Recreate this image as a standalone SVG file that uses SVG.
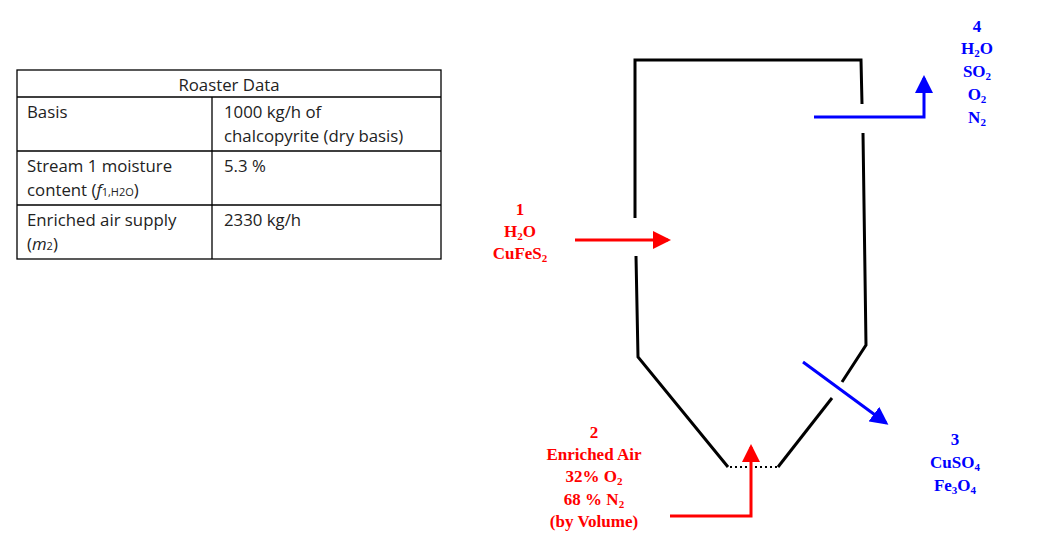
<svg xmlns="http://www.w3.org/2000/svg" width="1041" height="549" viewBox="0 0 1041 549">
<style>
.t{font-family:"Open Sans","Liberation Sans",sans-serif;font-size:16.8px;fill:#222}
.w{stroke:#000;stroke-width:3;fill:none}
.r{font-family:"Liberation Serif",serif;font-weight:bold;font-size:17px;fill:#f00;text-anchor:middle}
.b{font-family:"Liberation Serif",serif;font-weight:bold;font-size:17px;fill:#00f;text-anchor:middle}
.s{font-size:11px}
</style>
<defs>
<marker id="ar" markerWidth="6" markerHeight="6" refX="5" refY="3" orient="auto" markerUnits="strokeWidth"><path d="M0,0L6,3L0,6z" fill="#f00"/></marker>
<marker id="ab" markerWidth="6" markerHeight="6" refX="5" refY="3" orient="auto" markerUnits="strokeWidth"><path d="M0,0L6,3L0,6z" fill="#00f"/></marker>
</defs>
<g id="table" fill="none" stroke="#000" stroke-width="1.3">
<rect x="17" y="70" width="424" height="189"/>
<path d="M17 97H441M17 151H441M17 205H441M212 97V259"/>
</g>
<g id="table-text" class="t">
<text x="229" y="91" text-anchor="middle">Roaster Data</text>
<text x="27" y="118">Basis</text>
<text x="224" y="118">1000 kg/h of</text>
<text x="224" y="142">chalcopyrite (dry basis)</text>
<text x="27" y="172">Stream 1 moisture</text>
<text x="27" y="196">content (<tspan font-style="italic">f</tspan><tspan font-size="11">1,H2O</tspan>)</text>
<text x="224" y="172">5.3 %</text>
<text x="27" y="226">Enriched air supply</text>
<text x="27" y="250">(<tspan font-style="italic">m</tspan><tspan font-size="11">2</tspan>)</text>
<text x="224" y="226">2330 kg/h</text>
</g>
<g id="roaster">
<path class="w" d="M635 218V60H861L862 104"/>
<path class="w" d="M863 133L866 345L842 382"/>
<path class="w" d="M832 398L778 467"/>
<path class="w" d="M636 256L638 357L728 467"/>
<path d="M730 467H777" stroke="#000" stroke-width="2" stroke-dasharray="2,3"/>
</g>
<g id="connectors" fill="none" stroke-width="3">
<path d="M575 240H668" stroke="#f00" marker-end="url(#ar)"/>
<path d="M670 516H751V447" stroke="#f00" marker-end="url(#ar)"/>
<path d="M814 117H924V78" stroke="#00f" marker-end="url(#ab)"/>
<path d="M803 362L886 423" stroke="#00f" marker-end="url(#ab)"/>
</g>
<g id="stream1" class="r">
<text x="520" y="215">1</text>
<text x="520" y="237">H<tspan class="s" dy="3">2</tspan><tspan dy="-3">O</tspan></text>
<text x="520" y="259">CuFeS<tspan class="s" dy="3">2</tspan></text>
</g>
<g id="stream2" class="r">
<text x="594" y="438">2</text>
<text x="594" y="460">Enriched Air</text>
<text x="594" y="482">32% O<tspan class="s" dy="3">2</tspan></text>
<text x="594" y="505">68 % N<tspan class="s" dy="3">2</tspan></text>
<text x="594" y="527">(by Volume)</text>
</g>
<g id="stream3" class="b">
<text x="955" y="445">3</text>
<text x="955" y="468">CuSO<tspan class="s" dy="3">4</tspan></text>
<text x="955" y="491">Fe<tspan class="s" dy="3">3</tspan><tspan dy="-3">O</tspan><tspan class="s" dy="3">4</tspan></text>
</g>
<g id="stream4" class="b">
<text x="977" y="32">4</text>
<text x="977" y="54">H<tspan class="s" dy="3">2</tspan><tspan dy="-3">O</tspan></text>
<text x="977" y="77">SO<tspan class="s" dy="3">2</tspan></text>
<text x="977" y="100">O<tspan class="s" dy="3">2</tspan></text>
<text x="977" y="123">N<tspan class="s" dy="3">2</tspan></text>
</g>
</svg>
